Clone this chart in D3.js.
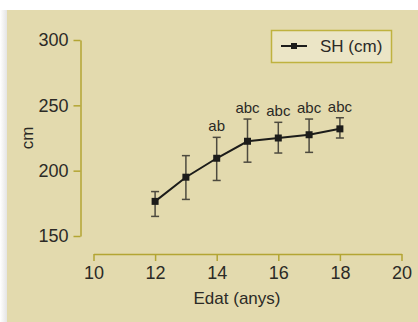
<!DOCTYPE html>
<html>
<head>
<meta charset="utf-8">
<script src="https://cdn.jsdelivr.net/npm/d3@7"></script>
<style>
  body { margin: 0; background: #fff; }
  svg { display: block; }
</style>
</head>
<body>
<div id="chart"></div>
<script>
// Data
const ages = [12, 13, 14, 15, 16, 17, 18];
const meanSH = [176.5, 195, 209.5, 222.5, 225, 227.5, 232];
const errUpper = [184, 211.5, 225.5, 239.5, 237, 239.5, 240.5];
const errLower = [165, 178, 192.5, 206.5, 213.5, 214, 225];
const letters = ["", "", "ab", "abc", "abc", "abc", "abc"];
const xTicks = [10, 12, 14, 16, 18, 20];
const yTicks = [150, 200, 250, 300];

const width = 418;
const height = 322;
const font = "Liberation Sans, Arial, sans-serif";
const axisColor = "#b3a533";
const textColor = "#2b2a26";

const svg = d3.select("#chart")
  .append("svg")
  .attr("width", width)
  .attr("height", height);

// left shadow + beige panel
const grad = svg.append("defs").append("linearGradient")
  .attr("id", "shade");
grad.append("stop").attr("offset", "0%").attr("stop-color", "#ffffff");
grad.append("stop").attr("offset", "100%").attr("stop-color", "#e4e4e4");
svg.append("rect")
  .attr("x", 0).attr("y", 10)
  .attr("width", 7).attr("height", height - 10)
  .attr("fill", "url(#shade)");
svg.append("rect")
  .attr("x", 7).attr("y", 10)
  .attr("width", width - 7).attr("height", height - 10)
  .attr("fill", "#e3daae");

// Scales
const x = d3.scaleLinear().domain([10, 20]).range([93.5, 401.5]);
const y = d3.scaleLinear().domain([150, 300]).range([236, 40]);

// Y axis
const yAxis = svg.append("g")
  .attr("transform", "translate(80.5,0)")
  .call(d3.axisLeft(y).tickValues(yTicks).tickSize(7).tickSizeOuter(0));
yAxis.select(".domain").attr("stroke", axisColor).attr("stroke-width", 1.5);
yAxis.selectAll(".tick line").attr("stroke", axisColor).attr("stroke-width", 1.5);
yAxis.selectAll(".tick text")
  .attr("x", -12)
  .attr("fill", textColor)
  .style("font-family", font)
  .style("font-size", "18px");

// X axis (ticks pointing down, line on top)
const xAxis = svg.append("g")
  .attr("transform", "translate(0,254)")
  .call(d3.axisBottom(x).tickValues(xTicks).tickSize(7).tickSizeOuter(0));
xAxis.select(".domain").attr("stroke", axisColor).attr("stroke-width", 1.5);
xAxis.selectAll(".tick line").attr("stroke", axisColor).attr("stroke-width", 1.5);
xAxis.selectAll(".tick text")
  .attr("y", 12)
  .attr("fill", textColor)
  .style("font-family", font)
  .style("font-size", "18px");

// Axis titles
svg.append("text")
  .attr("x", 237)
  .attr("y", 304)
  .attr("text-anchor", "middle")
  .attr("fill", textColor)
  .style("font-family", font)
  .style("font-size", "17px")
  .text("Edat (anys)");

svg.append("text")
  .attr("transform", "translate(33,138) rotate(-90)")
  .attr("text-anchor", "middle")
  .attr("fill", textColor)
  .style("font-family", font)
  .style("font-size", "17px")
  .text("cm");

const pts = ages.map((a, i) => ({
  age: a, v: meanSH[i], hi: errUpper[i], lo: errLower[i], lab: letters[i]
}));

// Error bars
const eb = svg.append("g")
  .attr("stroke", "#4d4a3f")
  .attr("stroke-width", 1.5);
pts.forEach(d => {
  eb.append("line")
    .attr("x1", x(d.age)).attr("x2", x(d.age))
    .attr("y1", y(d.hi)).attr("y2", y(d.lo));
  [d.hi, d.lo].forEach(v => {
    eb.append("line")
      .attr("x1", x(d.age) - 4).attr("x2", x(d.age) + 4)
      .attr("y1", y(v)).attr("y2", y(v));
  });
});

// Mean line
const line = d3.line()
  .x(d => x(d.age))
  .y(d => y(d.v));
svg.append("path")
  .datum(pts)
  .attr("d", line)
  .attr("fill", "none")
  .attr("stroke", "#1c1c1a")
  .attr("stroke-width", 2);

svg.selectAll(".pt")
  .data(pts)
  .enter().append("rect")
  .attr("x", d => x(d.age) - 3.5)
  .attr("y", d => y(d.v) - 3.5)
  .attr("width", 7)
  .attr("height", 7)
  .attr("fill", "#1c1c1a");

// Significance letters
svg.selectAll(".lab")
  .data(pts.filter(d => d.lab))
  .enter().append("text")
  .attr("x", d => x(d.age))
  .attr("y", d => y(d.hi) - 6)
  .attr("text-anchor", "middle")
  .attr("fill", textColor)
  .style("font-family", font)
  .style("font-size", "15px")
  .text(d => d.lab);

// Legend
const legend = svg.append("g").attr("transform", "translate(271,30)");
legend.append("rect")
  .attr("x", 0.5).attr("y", 0.5)
  .attr("width", 120).attr("height", 32)
  .attr("fill", "#ebe5c6")
  .attr("stroke", "#bfb23f")
  .attr("stroke-width", 1.5);
legend.append("line")
  .attr("x1", 10).attr("x2", 36)
  .attr("y1", 16).attr("y2", 16)
  .attr("stroke", "#1c1c1a")
  .attr("stroke-width", 2);
legend.append("rect")
  .attr("x", 20).attr("y", 13)
  .attr("width", 6).attr("height", 6)
  .attr("fill", "#1c1c1a");
legend.append("text")
  .attr("x", 49)
  .attr("y", 22)
  .attr("fill", textColor)
  .style("font-family", font)
  .style("font-size", "17px")
  .text("SH (cm)");
</script>
</body>
</html>
